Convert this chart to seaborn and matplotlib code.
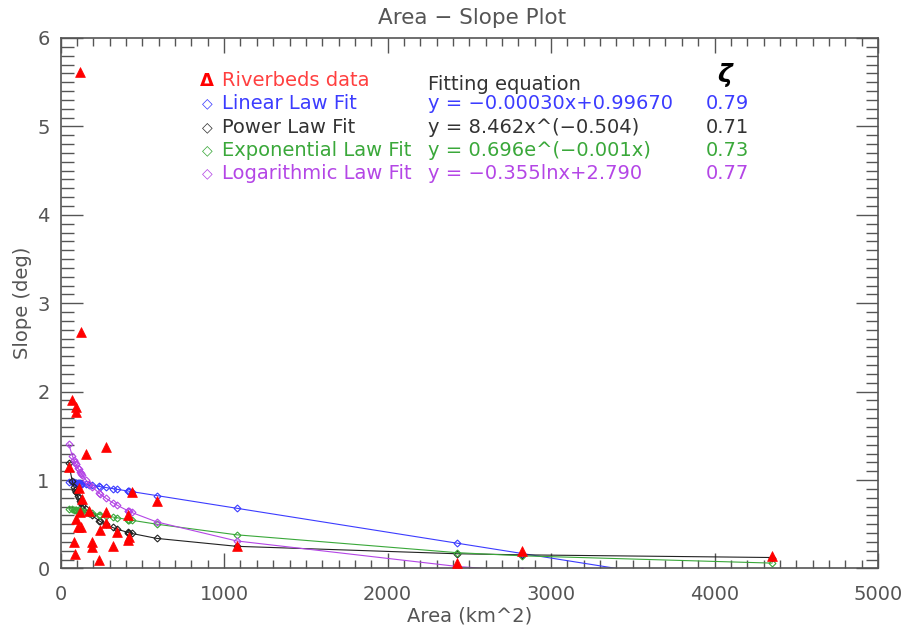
import numpy as np
import pandas as pd
import matplotlib
matplotlib.use("Agg")
import matplotlib.pyplot as plt
import seaborn as sns

area = [49, 71, 81, 88, 92, 93, 92, 104, 110, 118, 118, 122, 126, 132, 153, 175,
        191, 191, 236, 240, 275, 275, 275, 318, 342, 410, 414, 420, 434, 587,
        1076, 2422, 2825, 4352]
slope = [1.15, 1.90, 0.30, 0.16, 1.83, 1.77, 0.56, 0.47, 0.91, 0.64, 5.61, 0.47,
         2.68, 0.79, 1.30, 0.65, 0.30, 0.24, 0.10, 0.44, 1.37, 0.64, 0.51, 0.25,
         0.41, 0.61, 0.32, 0.36, 0.87, 0.76, 0.25, 0.06, 0.20, 0.14]

# fit coefficients (unrounded estimates of the printed ones)
lin_a, lin_b = -0.000293, 0.99670
pow_a, pow_b = 8.462, -0.504
exp_a, exp_b = 0.696, -0.00056
log_a, log_b = -0.355, 2.790

fit_names = ["Linear Law Fit", "Power Law Fit", "Exponential Law Fit", "Logarithmic Law Fit"]
fit_eqs = ["y = \u22120.00030x+0.99670", "y = 8.462x^(\u22120.504)",
           "y = 0.696e^(\u22120.001x)", "y = \u22120.355lnx+2.790"]
fit_zeta = ["0.79", "0.71", "0.73", "0.77"]
fit_colors = ["#3c3cff", "#222222", "#3aa83a", "#b446e6"]

df = pd.DataFrame({"area": area, "slope": slope})
xs = np.array(sorted(set(area)), dtype=float)
fits = pd.DataFrame({
    "area": np.tile(xs, 4),
    "fit": np.repeat(fit_names, len(xs)),
    "value": np.concatenate([
        lin_a * xs + lin_b,
        pow_a * xs ** pow_b,
        exp_a * np.exp(exp_b * xs),
        log_a * np.log(xs) + log_b,
    ]),
})

sns.set_style("ticks")
plt.rcParams["font.family"] = ["DejaVu Sans"]
gray = "#555555"

fig = plt.figure(figsize=(9.07, 6.32), dpi=100)
ax = fig.add_axes([0.0669, 0.1005, 0.9011, 0.8394])

sns.lineplot(data=fits, x="area", y="value", hue="fit", hue_order=fit_names,
             palette=fit_colors, marker="D", markersize=3.5, markerfacecolor="none",
             markeredgewidth=0.8, linewidth=0.8, legend=False, ax=ax, sort=True)
for line, c in zip(ax.get_lines(), fit_colors):
    line.set_markeredgecolor(c)

sns.scatterplot(data=df, x="area", y="slope", marker="^", s=50, color="red",
                edgecolor="red", linewidth=0.5, ax=ax, zorder=5, clip_on=False)

ax.set_xlim(0, 5000)
ax.set_ylim(0, 6)
ax.set_xticks(np.arange(0, 5001, 1000))
ax.set_xticks(np.arange(0, 5001, 100), minor=True)
ax.set_yticks(np.arange(0, 7, 1))
ax.set_yticks(np.arange(0, 6.01, 0.1), minor=True)
ax.tick_params(axis="x", which="major", direction="in", length=11, width=1,
               top=True, colors=gray, labelsize=14, pad=12)
ax.tick_params(axis="x", which="minor", direction="in", length=6, width=1, top=True, colors=gray)
ax.tick_params(axis="y", which="major", direction="in", length=16, width=1,
               right=True, colors=gray, labelsize=14, pad=8)
ax.tick_params(axis="y", which="minor", direction="in", length=9, width=1, right=True, colors=gray)
for sp in ax.spines.values():
    sp.set_color(gray)
    sp.set_linewidth(1.2)

ax.set_xlabel("Area (km^2)", fontsize=14, color=gray, labelpad=2)
ax.set_ylabel("Slope (deg)", fontsize=14, color=gray, labelpad=4)
fig.text(0.52, 0.971, "Area \u2212 Slope Plot", ha="center", va="center",
         fontsize=15.5, color=gray)

# legend table
tr = ax.transAxes
rows_y = [0.919, 0.876, 0.832, 0.788, 0.745]
ax.text(0.179, rows_y[0], "\u0394", transform=tr, color="red", fontsize=13,
        fontweight="bold", va="center", ha="center")
ax.text(0.197, rows_y[0], "Riverbeds data", transform=tr, color="#ff4040",
        fontsize=14, va="center")
ax.text(0.450, rows_y[0] - 0.006, "Fitting equation", transform=tr, color="#333333",
        fontsize=14, va="center")
ax.text(0.812, rows_y[0] + 0.012, "\u03b6", transform=tr, color="black",
        fontsize=18, va="center", ha="center", fontstyle="italic", fontweight="bold")
for i in range(4):
    y = rows_y[i + 1]
    c = fit_colors[i] if i != 1 else "#333333"
    ax.text(0.179, y, "\u25c7", transform=tr, color=c, fontsize=10, va="center", ha="center")
    ax.text(0.197, y, fit_names[i], transform=tr, color=c, fontsize=14, va="center")
    ax.text(0.450, y, fit_eqs[i], transform=tr, color=c, fontsize=14, va="center")
    ax.text(0.789, y, fit_zeta[i], transform=tr, color=c, fontsize=14, va="center")

fig.savefig("out.png", dpi=100)
